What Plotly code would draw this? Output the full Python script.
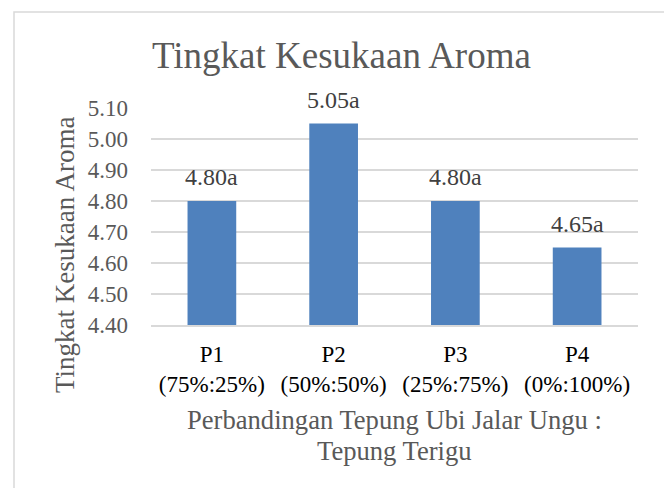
import plotly.graph_objects as go

categories = ["P1<br>(75%:25%)", "P2<br>(50%:50%)", "P3<br>(25%:75%)", "P4<br>(0%:100%)"]
values = [4.80, 5.05, 4.80, 4.65]
labels = ["4.80a", "5.05a", "4.80a", "4.65a"]
tick_vals = [4.40, 4.50, 4.60, 4.70, 4.80, 4.90, 5.00, 5.10]
y_min, y_max = 4.40, 5.10

FONT = "Liberation Serif, Times New Roman, serif"
OFF = 8  # page body margin
W, H = 664, 480
# plot area in screen pixels: x 151-638, y 108-325
L, T = 151 - OFF, 108 - OFF
R, B = W - (638 - OFF), H - (325 - OFF)
pw, ph = W - L - R, H - T - B

def px_x(x):
    return (x - OFF - L) / pw

def px_y(y):
    return (H - B - (y - OFF)) / ph

fig = go.Figure()
fig.add_trace(go.Bar(
    x=categories, y=[v - y_min for v in values], base=y_min,
    marker=dict(color="#4F81BD", line=dict(width=0)),
    width=0.4, hoverinfo="skip",
))

annotations = []
for c, v, t in zip(categories, values, labels):
    annotations.append(dict(x=c, y=v, xref="x", yref="y", text=t, showarrow=False,
                            yanchor="bottom", yshift=9,
                            font=dict(family=FONT, size=24, color="#404040")))

annotations += [
    dict(text="Tingkat Kesukaan Aroma", xref="paper", yref="paper",
         x=px_x(341), y=px_y(56), xanchor="center", yanchor="middle", showarrow=False,
         font=dict(family=FONT, size=37, color="#595959")),
    dict(text="Perbandingan Tepung Ubi Jalar Ungu :", xref="paper", yref="paper",
         x=px_x(394), y=px_y(420), xanchor="center", yanchor="middle", showarrow=False,
         font=dict(family=FONT, size=26.6, color="#595959")),
    dict(text="Tepung Terigu", xref="paper", yref="paper",
         x=px_x(394), y=px_y(451), xanchor="center", yanchor="middle", showarrow=False,
         font=dict(family=FONT, size=26.6, color="#595959")),
    dict(text="Tingkat Kesukaan Aroma", xref="paper", yref="paper", textangle=-90,
         x=px_x(65), y=px_y(255), xanchor="center", yanchor="middle", showarrow=False,
         font=dict(family=FONT, size=27, color="#595959")),
]

fig.update_layout(
    width=W, height=H,
    margin=dict(l=L, r=R, t=T, b=B, autoexpand=False),
    paper_bgcolor="white", plot_bgcolor="white",
    showlegend=False,
    font=dict(family=FONT),
    xaxis=dict(
        automargin=False,
        showgrid=False, showline=True, linecolor="#D9D9D9", linewidth=1.5,
        ticks="", tickfont=dict(family=FONT, size=23, color="#000000"),
        ticklabelstandoff=8,
    ),
    yaxis=dict(
        automargin=False,
        range=[y_min, y_max], tickvals=tick_vals,
        ticktext=[f"{v:.2f}" for v in tick_vals],
        showgrid=True, gridcolor="#D9D9D9", gridwidth=1.5,
        zeroline=False, showline=False, ticks="",
        tickfont=dict(family=FONT, size=23, color="#595959"),
        ticklabelstandoff=22,
    ),
    annotations=annotations,
    shapes=[dict(type="rect", xref="paper", yref="paper",
                 x0=px_x(14), x1=px_x(667), y0=px_y(520), y1=px_y(12),
                 line=dict(color="#D9D9D9", width=1.5), fillcolor="rgba(0,0,0,0)",
                 layer="below")],
)

fig.write_html("out.html")
